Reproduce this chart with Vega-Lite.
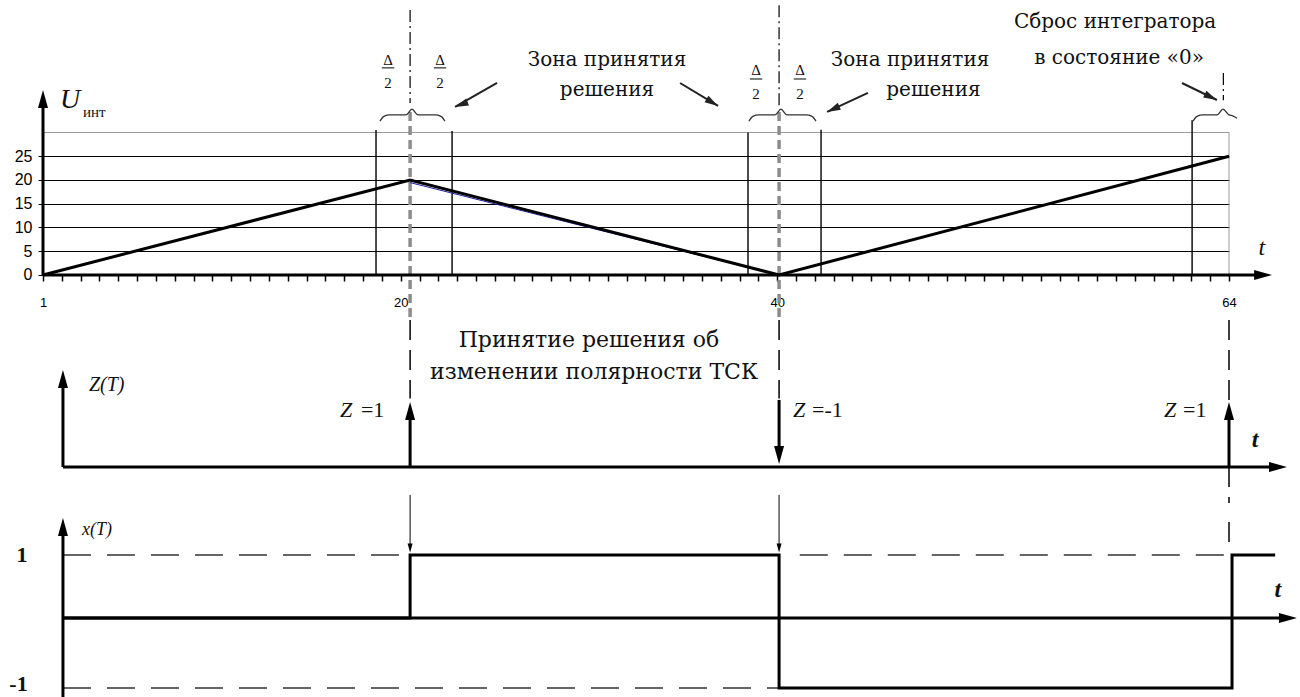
{
  "$schema": "https://vega.github.io/schema/vega-lite/v6.json",
  "width": 1186,
  "height": 697,
  "autosize": {"type": "none"},
  "padding": {"left": 43, "top": 0, "right": 71, "bottom": 0},
  "background": "white",
  "config": {"view": {"stroke": null}},
  "datasets": {
    "border": [
      {"t": 1, "u": 30, "t2": 64, "u2": 30},
      {"t": 64, "u": 0, "t2": 64, "u2": 30}
    ],
    "zones": [
      {"t": 18.69, "u": 0, "t2": 18.69, "u2": 30.5},
      {"t": 22.73, "u": 0, "t2": 22.73, "u2": 30.3},
      {"t": 38.45, "u": 0, "t2": 38.45, "u2": 30.0},
      {"t": 42.33, "u": 0, "t2": 42.33, "u2": 30.6},
      {"t": 62.04, "u": 0, "t2": 62.04, "u2": 32.6}
    ],
    "grayd": [
      {"t": 20.5, "u": 34.3, "t2": 20.5, "u2": -9.5},
      {"t": 40.1, "u": 34.3, "t2": 40.1, "u2": -9.5}
    ],
    "dashdot": [
      {"t": 20.5, "u": 55.8, "t2": 20.5, "u2": 36.2},
      {"t": 40.1, "u": 56.8, "t2": 40.1, "u2": 35.0},
      {"t": 63.7, "u": 42.5, "t2": 63.7, "u2": 36.8}
    ],
    "longd": [
      {"t": 20.5, "u": -9.5, "t2": 20.5, "u2": -26.0},
      {"t": 40.1, "u": -9.5, "t2": 40.1, "u2": -26.0},
      {"t": 64, "u": -9.5, "t2": 64, "u2": -26.5},
      {"t": 64, "u": -40.42, "t2": 64, "u2": -48.0},
      {"t": 64, "u": -52.0, "t2": 64, "u2": -57.5}
    ],
    "levels": [
      {"t": 2.06, "u": -58.95, "t2": 20.5, "u2": -58.95},
      {"t": 41.2, "u": -58.95, "t2": 63.9, "u2": -58.95},
      {"t": 2.06, "u": -86.95, "t2": 40.1, "u2": -86.95}
    ],
    "blue": [
      {"t": 20.5, "u": 19.45},
      {"t": 40.1, "u": -0.05}
    ],
    "tri": [
      {"t": 1, "u": 0},
      {"t": 20.5, "u": 20},
      {"t": 40.1, "u": 0},
      {"t": 64, "u": 25}
    ],
    "signal": [
      {"i": 1, "t": 2.06, "u": -72.21},
      {"i": 2, "t": 20.5, "u": -72.21},
      {"i": 3, "t": 20.5, "u": -58.95},
      {"i": 4, "t": 40.1, "u": -58.95},
      {"i": 5, "t": 40.1, "u": -86.95},
      {"i": 6, "t": 64.16, "u": -86.95},
      {"i": 7, "t": 64.16, "u": -58.95},
      {"i": 8, "t": 66.45, "u": -58.95}
    ],
    "axes": [
      {"t": 1, "u": 0, "t2": 1, "u2": 36},
      {"t": 1, "u": 0, "t2": 65.6, "u2": 0},
      {"t": 2.06, "u": -40.42, "t2": 2.06, "u2": -23},
      {"t": 2.06, "u": -40.42, "t2": 66.4, "u2": -40.42},
      {"t": 2.06, "u": -88.84, "t2": 2.06, "u2": -54.5},
      {"t": 2.06, "u": -72.21, "t2": 66.9, "u2": -72.21},
      {"t": 20.5, "u": -40.42, "t2": 20.5, "u2": -29.8},
      {"t": 64, "u": -40.42, "t2": 64, "u2": -29.8},
      {"t": 40.1, "u": -26.3, "t2": 40.1, "u2": -36.5}
    ],
    "pointers": [
      {"t": 25.12, "u": 40.42, "t2": 22.89, "u2": 35.37},
      {"t": 34.84, "u": 40.42, "t2": 36.86, "u2": 35.58},
      {"t": 44.82, "u": 38.32, "t2": 42.65, "u2": 34.32},
      {"t": 61.5, "u": 40.42, "t2": 63.36, "u2": 36.84}
    ],
    "thin": [
      {"t": 20.5, "u": -46.3, "t2": 20.5, "u2": -57.0},
      {"t": 40.1, "u": -46.3, "t2": 40.1, "u2": -57.0}
    ],
    "bars": [
      {"t": 19.0, "u": 43.6, "t2": 19.66, "u2": 43.6},
      {"t": 21.76, "u": 43.6, "t2": 22.42, "u2": 43.6},
      {"t": 38.55, "u": 41.26, "t2": 39.21, "u2": 41.26},
      {"t": 40.88, "u": 41.26, "t2": 41.54, "u2": 41.26}
    ],
    "braces": [
      {"b": 1, "i": 1, "t": 18.9, "u": 32.4},
      {"b": 1, "i": 2, "t": 19.11, "u": 33.4},
      {"b": 1, "i": 3, "t": 19.43, "u": 33.7},
      {"b": 1, "i": 4, "t": 20.28, "u": 33.7},
      {"b": 1, "i": 5, "t": 20.6, "u": 34.9},
      {"b": 1, "i": 6, "t": 20.92, "u": 33.7},
      {"b": 1, "i": 7, "t": 21.82, "u": 33.7},
      {"b": 1, "i": 8, "t": 22.14, "u": 33.4},
      {"b": 1, "i": 9, "t": 22.35, "u": 32.4},
      {"b": 2, "i": 1, "t": 38.5, "u": 32.4},
      {"b": 2, "i": 2, "t": 38.71, "u": 33.4},
      {"b": 2, "i": 3, "t": 39.03, "u": 33.7},
      {"b": 2, "i": 4, "t": 39.88, "u": 33.7},
      {"b": 2, "i": 5, "t": 40.2, "u": 34.9},
      {"b": 2, "i": 6, "t": 40.52, "u": 33.7},
      {"b": 2, "i": 7, "t": 41.53, "u": 33.7},
      {"b": 2, "i": 8, "t": 41.85, "u": 33.4},
      {"b": 2, "i": 9, "t": 42.06, "u": 32.4},
      {"b": 3, "i": 1, "t": 62.09, "u": 32.4},
      {"b": 3, "i": 2, "t": 62.3, "u": 33.4},
      {"b": 3, "i": 3, "t": 62.62, "u": 33.7},
      {"b": 3, "i": 4, "t": 63.36, "u": 33.7},
      {"b": 3, "i": 5, "t": 63.68, "u": 34.9},
      {"b": 3, "i": 6, "t": 64.0, "u": 33.7},
      {"b": 3, "i": 7, "t": 64.2, "u": 33.5},
      {"b": 3, "i": 8, "t": 64.43, "u": 33.0}
    ],
    "heads": [
      {"grp": "big", "t": 1, "u": 38.95, "dir": 0},
      {"grp": "big", "t": 66.29, "u": 0, "dir": 90},
      {"grp": "big", "t": 2.06, "u": -20.0, "dir": 0},
      {"grp": "big", "t": 67.08, "u": -40.42, "dir": 90},
      {"grp": "big", "t": 2.06, "u": -51.16, "dir": 0},
      {"grp": "big", "t": 67.61, "u": -72.21, "dir": 90},
      {"grp": "big", "t": 20.5, "u": -26.74, "dir": 0},
      {"grp": "big", "t": 40.1, "u": -39.8, "dir": 180},
      {"grp": "big", "t": 64, "u": -26.74, "dir": 0},
      {"grp": "mid", "t": 22.89, "u": 35.37, "dir": 248},
      {"grp": "mid", "t": 36.86, "u": 35.58, "dir": 121},
      {"grp": "mid", "t": 42.65, "u": 34.32, "dir": 245},
      {"grp": "mid", "t": 63.36, "u": 36.84, "dir": 116},
      {"grp": "small", "t": 20.5, "u": -58.4, "dir": 180},
      {"grp": "small", "t": 40.1, "u": -58.4, "dir": 180}
    ],
    "texts": [
      {"grp": "note", "t": 30.96, "u": 45.26, "label": "Зона принятия"},
      {"grp": "note", "t": 30.96, "u": 38.95, "label": "решения"},
      {"grp": "note", "t": 47.06, "u": 45.26, "label": "Зона принятия"},
      {"grp": "note", "t": 48.3, "u": 38.95, "label": "решения"},
      {"grp": "note", "t": 57.95, "u": 53.26, "label": "Сброс интегратора"},
      {"grp": "note", "t": 58.16, "u": 45.68, "label": "в состояние «0»"},
      {"grp": "note2", "t": 30.0, "u": -13.68, "label": "Принятие решения об"},
      {"grp": "note2", "t": 30.27, "u": -20.42, "label": "изменении полярности ТСК"},
      {"grp": "eq", "t": 17.89, "u": -28.42, "label": "=1"},
      {"grp": "eq", "t": 41.85, "u": -28.42, "label": "=-1"},
      {"grp": "eq", "t": 61.56, "u": -28.42, "label": "=1"},
      {"grp": "zi", "t": 16.78, "u": -28.42, "label": "Z"},
      {"grp": "zi", "t": 40.84, "u": -28.42, "label": "Z"},
      {"grp": "zi", "t": 60.55, "u": -28.42, "label": "Z"},
      {"grp": "var", "t": 3.44, "u": -23.16, "label": "Z(T)"},
      {"grp": "var2", "t": 3.07, "u": -53.68, "label": "x(T)"},
      {"grp": "U", "t": 1.9, "u": 36.84, "label": "U"},
      {"grp": "sub", "t": 3.12, "u": 34.3, "label": "инт"},
      {"grp": "tt", "t": 65.75, "u": 5.68, "label": "t"},
      {"grp": "tb", "t": 65.38, "u": -34.74, "label": "t"},
      {"grp": "tb", "t": 66.6, "u": -66.32, "label": "t"},
      {"grp": "lev", "t": -0.12, "u": -58.95, "label": "1"},
      {"grp": "lev", "t": -0.3, "u": -86.1, "label": "-1"},
      {"grp": "frac", "t": 19.33, "u": 45.3, "label": "Δ"},
      {"grp": "frac", "t": 22.09, "u": 45.3, "label": "Δ"},
      {"grp": "frac", "t": 38.88, "u": 43.16, "label": "Δ"},
      {"grp": "frac", "t": 41.21, "u": 43.16, "label": "Δ"},
      {"grp": "frac", "t": 19.33, "u": 40.4, "label": "2"},
      {"grp": "frac", "t": 22.09, "u": 40.4, "label": "2"},
      {"grp": "frac", "t": 38.88, "u": 38.1, "label": "2"},
      {"grp": "frac", "t": 41.21, "u": 38.1, "label": "2"}
    ]
  },
  "encoding": {
    "x": {
      "field": "t", "type": "quantitative",
      "scale": {"domain": [1, 64], "nice": false, "zero": false},
      "axis": {
        "title": null, "orient": "bottom", "offset": -422, "domain": false, "grid": false,
        "values": [1,2,3,4,5,6,7,8,9,10,11,12,13,14,15,16,17,18,19,20,21,22,23,24,25,26,27,28,29,30,31,32,33,34,35,36,37,38,39,40,41,42,43,44,45,46,47,48,49,50,51,52,53,54,55,56,57,58,59,60,61,62,63,64],
        "labelExpr": "indexof([1,20,40,64], datum.value) >= 0 ? datum.label : ''",
        "labelOverlap": false, "labelFlush": false,
        "tickColor": "black", "tickSize": 6, "tickWidth": 1.5,
        "labelFont": "Liberation Sans", "labelFontSize": 13, "labelColor": "black", "labelPadding": 15
      }
    },
    "y": {
      "field": "u", "type": "quantitative",
      "scale": {"domain": [-88.84, 57.89], "nice": false, "zero": false},
      "axis": {
        "title": null, "domain": false, "values": [0, 5, 10, 15, 20, 25],
        "grid": true, "gridColor": "black", "gridWidth": 1, "gridOpacity": 1,
        "ticks": true, "tickColor": "black", "tickSize": 5,
        "labelFont": "Liberation Sans", "labelFontSize": 16, "labelColor": "black", "labelPadding": 6
      }
    }
  },
  "layer": [
    {"data": {"name": "border"}, "mark": {"type": "rule", "color": "#9a9a9a", "strokeWidth": 1}, "encoding": {"x2": {"field": "t2"}, "y2": {"field": "u2"}}},
    {"data": {"name": "zones"}, "mark": {"type": "rule", "color": "black", "strokeWidth": 1.4}, "encoding": {"x2": {"field": "t2"}, "y2": {"field": "u2"}}},
    {"data": {"name": "grayd"}, "mark": {"type": "rule", "color": "#8c8c8c", "strokeWidth": 3.5, "strokeDash": [9, 5]}, "encoding": {"x2": {"field": "t2"}, "y2": {"field": "u2"}}},
    {"data": {"name": "dashdot"}, "mark": {"type": "rule", "color": "black", "strokeWidth": 1.2, "strokeDash": [12, 4, 2, 4]}, "encoding": {"x2": {"field": "t2"}, "y2": {"field": "u2"}}},
    {"data": {"name": "longd"}, "mark": {"type": "rule", "color": "black", "strokeWidth": 1.5, "strokeDash": [20, 10]}, "encoding": {"x2": {"field": "t2"}, "y2": {"field": "u2"}}},
    {"data": {"name": "levels"}, "mark": {"type": "rule", "color": "#333333", "strokeWidth": 1.5, "strokeDash": [28, 16]}, "encoding": {"x2": {"field": "t2"}, "y2": {"field": "u2"}}},
    {"data": {"name": "blue"}, "mark": {"type": "line", "color": "#2020a0", "strokeWidth": 1}, "encoding": {}},
    {"data": {"name": "tri"}, "mark": {"type": "line", "color": "black", "strokeWidth": 3}, "encoding": {}},
    {"data": {"name": "signal"}, "mark": {"type": "line", "color": "black", "strokeWidth": 3}, "encoding": {"order": {"field": "i", "type": "quantitative"}}},
    {"data": {"name": "axes"}, "mark": {"type": "rule", "color": "black", "strokeWidth": 3}, "encoding": {"x2": {"field": "t2"}, "y2": {"field": "u2"}}},
    {"data": {"name": "pointers"}, "mark": {"type": "rule", "color": "#222222", "strokeWidth": 2}, "encoding": {"x2": {"field": "t2"}, "y2": {"field": "u2"}}},
    {"data": {"name": "thin"}, "mark": {"type": "rule", "color": "black", "strokeWidth": 1}, "encoding": {"x2": {"field": "t2"}, "y2": {"field": "u2"}}},
    {"data": {"name": "bars"}, "mark": {"type": "rule", "color": "black", "strokeWidth": 1}, "encoding": {"x2": {"field": "t2"}, "y2": {"field": "u2"}}},
    {"data": {"name": "braces"}, "mark": {"type": "line", "color": "#333333", "strokeWidth": 1.3, "interpolate": "monotone"}, "encoding": {"detail": {"field": "b", "type": "nominal"}, "order": {"field": "i", "type": "quantitative"}}},
    {"data": {"name": "heads"}, "transform": [{"filter": "datum.grp === 'big'"}], "mark": {"type": "point", "shape": "M0,0L0.5,1.8L-0.5,1.8Z", "filled": true, "color": "black", "opacity": 1, "size": 400}, "encoding": {"angle": {"field": "dir", "type": "quantitative", "scale": null}}},
    {"data": {"name": "heads"}, "transform": [{"filter": "datum.grp === 'mid'"}], "mark": {"type": "point", "shape": "M0,0L0.5,1.8L-0.5,1.8Z", "filled": true, "color": "#222222", "opacity": 1, "size": 225}, "encoding": {"angle": {"field": "dir", "type": "quantitative", "scale": null}}},
    {"data": {"name": "heads"}, "transform": [{"filter": "datum.grp === 'small'"}], "mark": {"type": "point", "shape": "M0,0L0.5,1.8L-0.5,1.8Z", "filled": true, "color": "black", "opacity": 1, "size": 100}, "encoding": {"angle": {"field": "dir", "type": "quantitative", "scale": null}}},
    {"data": {"name": "texts"}, "transform": [{"filter": "datum.grp === 'note'"}], "mark": {"type": "text", "font": "DejaVu Serif", "fontSize": 20, "color": "#111111", "align": "center", "baseline": "middle"}, "encoding": {"text": {"field": "label"}}},
    {"data": {"name": "texts"}, "transform": [{"filter": "datum.grp === 'note2'"}], "mark": {"type": "text", "font": "DejaVu Serif", "fontSize": 22, "color": "#111111", "align": "center", "baseline": "middle"}, "encoding": {"text": {"field": "label"}}},
    {"data": {"name": "texts"}, "transform": [{"filter": "datum.grp === 'eq'"}], "mark": {"type": "text", "font": "Liberation Serif, DejaVu Serif, serif", "fontSize": 22, "color": "#111111", "align": "left", "baseline": "middle"}, "encoding": {"text": {"field": "label"}}},
    {"data": {"name": "texts"}, "transform": [{"filter": "datum.grp === 'zi'"}], "mark": {"type": "text", "font": "Liberation Serif, DejaVu Serif, serif", "fontStyle": "italic", "fontSize": 22, "color": "#111111", "align": "left", "baseline": "middle"}, "encoding": {"text": {"field": "label"}}},
    {"data": {"name": "texts"}, "transform": [{"filter": "datum.grp === 'var'"}], "mark": {"type": "text", "font": "Liberation Serif, DejaVu Serif, serif", "fontStyle": "italic", "fontSize": 20, "color": "#111111", "align": "left", "baseline": "middle"}, "encoding": {"text": {"field": "label"}}},
    {"data": {"name": "texts"}, "transform": [{"filter": "datum.grp === 'var2'"}], "mark": {"type": "text", "font": "Liberation Serif, DejaVu Serif, serif", "fontStyle": "italic", "fontSize": 18, "color": "#111111", "align": "left", "baseline": "middle"}, "encoding": {"text": {"field": "label"}}},
    {"data": {"name": "texts"}, "transform": [{"filter": "datum.grp === 'U'"}], "mark": {"type": "text", "font": "Liberation Serif, DejaVu Serif, serif", "fontStyle": "italic", "fontSize": 28, "color": "#111111", "align": "left", "baseline": "middle"}, "encoding": {"text": {"field": "label"}}},
    {"data": {"name": "texts"}, "transform": [{"filter": "datum.grp === 'sub'"}], "mark": {"type": "text", "font": "Liberation Serif, DejaVu Serif, serif", "fontSize": 15, "color": "#111111", "align": "left", "baseline": "middle"}, "encoding": {"text": {"field": "label"}}},
    {"data": {"name": "texts"}, "transform": [{"filter": "datum.grp === 'tt'"}], "mark": {"type": "text", "font": "Liberation Serif, DejaVu Serif, serif", "fontStyle": "italic", "fontSize": 24, "color": "#111111", "align": "center", "baseline": "middle"}, "encoding": {"text": {"field": "label"}}},
    {"data": {"name": "texts"}, "transform": [{"filter": "datum.grp === 'tb'"}], "mark": {"type": "text", "font": "Liberation Serif, DejaVu Serif, serif", "fontStyle": "italic", "fontWeight": "bold", "fontSize": 24, "color": "#111111", "align": "center", "baseline": "middle"}, "encoding": {"text": {"field": "label"}}},
    {"data": {"name": "texts"}, "transform": [{"filter": "datum.grp === 'lev'"}], "mark": {"type": "text", "font": "Liberation Serif, DejaVu Serif, serif", "fontWeight": "bold", "fontSize": 22, "color": "#111111", "align": "center", "baseline": "middle"}, "encoding": {"text": {"field": "label"}}},
    {"data": {"name": "texts"}, "transform": [{"filter": "datum.grp === 'frac'"}], "mark": {"type": "text", "font": "Liberation Serif, DejaVu Serif, serif", "fontSize": 15, "color": "#111111", "align": "center", "baseline": "middle"}, "encoding": {"text": {"field": "label"}}}
  ]
}
